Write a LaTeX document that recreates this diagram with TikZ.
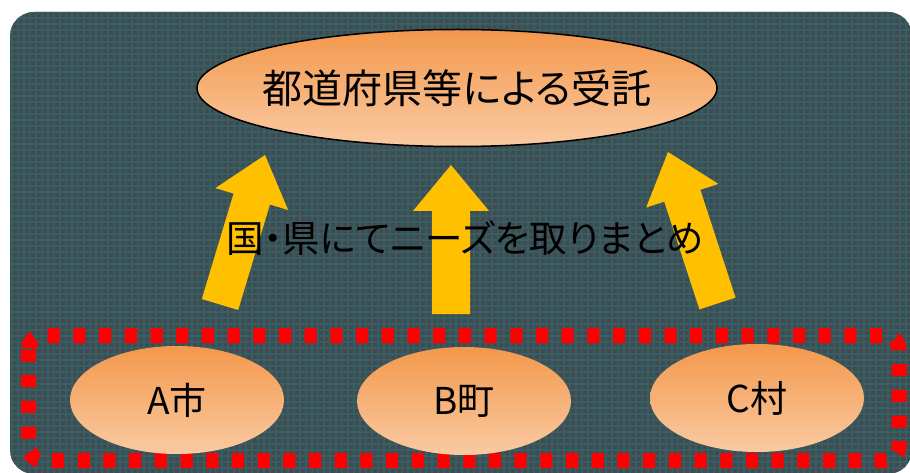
\documentclass[tikz,border=0pt]{standalone}
\usepackage{fontspec}
\setmainfont{Noto Sans CJK JP}[RawFeature=+palt]
\usetikzlibrary{shapes.geometric,calc}
\definecolor{bgbase}{RGB}{70,72,78}
\definecolor{bgline}{RGB}{50,96,100}
\definecolor{orangeT}{RGB}{243,152,76}
\definecolor{orangeB}{RGB}{250,202,162}
\definecolor{arrowY}{RGB}{255,192,0}
\definecolor{dotred}{RGB}{255,0,0}
\newcommand\yarrow[2]{%
  \coordinate (#1h) at ($(#2)!46pt!(#1)$);
  \fill[arrowfill] ($(#1)!19pt!90:(#2)$) -- ($(#1h)!19pt!90:(#2)$) -- ($(#1h)!38pt!90:(#2)$) -- (#2)
    -- ($(#1h)!38pt!-90:(#2)$) -- ($(#1h)!19pt!-90:(#2)$) -- ($(#1)!19pt!-90:(#2)$) -- cycle;}
\begin{document}
\begin{tikzpicture}[x=1pt,y=-1pt,
  oval/.style={ellipse, inner sep=0pt, top color=orangeT, bottom color=orangeB, text=black},
  small oval/.style={oval, minimum width=214pt, minimum height=108pt, font=\fontsize{37}{44}\selectfont},
  arrowfill/.style={fill=arrowY, draw=none},
  dotframe/.style={draw=dotred, line width=15pt, dash pattern=on 12pt off 13.7pt, rounded corners=14pt}]
\useasboundingbox (0,0) rectangle (910,473);
% background
\begin{scope}
  \clip[rounded corners=24pt] (10,12) rectangle (912,474);
  \fill[bgbase] (0,0) rectangle (920,480);
  \draw[bgline, line width=1.6pt, step=6pt] (0,0) grid (920,480);
\end{scope}
% dotted frame
\draw[dotframe] (28.5,335.5) rectangle (899,460.5);
% top ellipse
\node[oval, draw=black, line width=1.5pt, minimum width=520pt, minimum height=117pt,
      font=\fontsize{40}{46}\selectfont] (top) at (457,88) {\makebox[0pt]{都道府県等による受託}};
% arrows
\coordinate (lt) at (220,304.5); \coordinate (lp) at (265,155);
\coordinate (ct) at (451,314);   \coordinate (cp) at (451,165);
\coordinate (rt) at (717.5,303.5); \coordinate (rp) at (668,152);
\yarrow{lt}{lp}
\yarrow{ct}{cp}
\yarrow{rt}{rp}
% middle label
\node[font=\fontsize{37.5}{44}\selectfont, inner sep=0pt] (mid) at (465,238) {国・県にてニーズを取りまとめ};
% bottom ellipses
\node[small oval] (a) at (177,400) {A市};
\node[small oval] (b) at (464,401) {B町};
\node[small oval] (c) at (757,398) {C村};
\end{tikzpicture}
\end{document}
